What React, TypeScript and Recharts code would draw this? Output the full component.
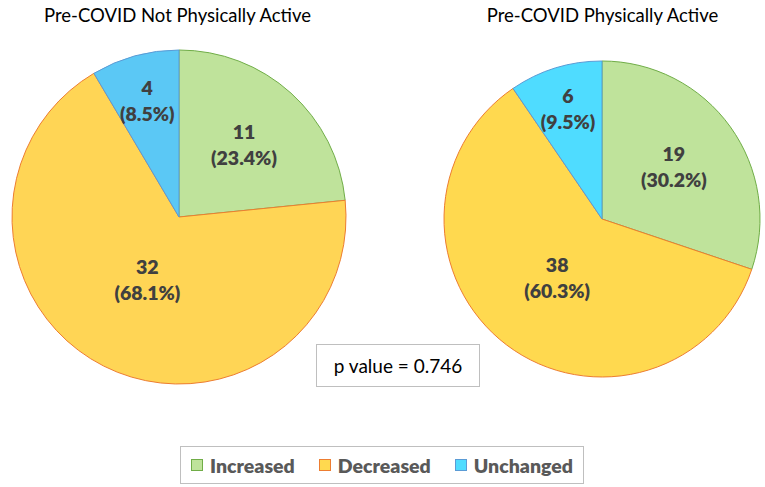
import { PieChart, Pie, Cell, Legend } from 'recharts'

const categories = ['Increased', 'Decreased', 'Unchanged']
const notActiveCounts = [11, 32, 4]
const activeCounts = [19, 38, 6]
const titles = ['Pre-COVID Not Physically Active', 'Pre-COVID Physically Active']
const pValueText = 'p value = 0.746'

const FILLS_LEFT = ['#bfe39b', '#ffd555', '#5bc8f5']
const FILLS_RIGHT = ['#bfe39b', '#ffd94f', '#4fdcff']
const STROKES = ['#70ad47', '#ed7d31', '#5b9bd5']
const FONT = 'Lato, "Open Sans", sans-serif'
const RADIAN = Math.PI / 180

const notActiveData = categories.map((name, i) => ({ name, value: notActiveCounts[i] }))
const activeData = categories.map((name, i) => ({ name, value: activeCounts[i] }))

// excel "best fit" puts each label at a different distance from the centre
function makeLabel(factors: number[]) {
  return (props: any) => {
    const { cx, cy, midAngle, outerRadius, percent, value, index } = props
    const r = outerRadius * factors[index]
    const x = cx + r * Math.cos(-midAngle * RADIAN)
    const y = cy + r * Math.sin(-midAngle * RADIAN)
    return (
      <text x={x} y={y} textAnchor="middle" fill="#404040" fontFamily={FONT} fontWeight={800} fontSize={19.5}>
        <tspan x={x} dy={-6}>{value}</tspan>
        <tspan x={x} dy={26}>({(percent * 100).toFixed(1)}%)</tspan>
      </text>
    )
  }
}

function LegendBox() {
  return (
    <div
      style={{
        border: '1.5px solid #bfbfbf',
        background: '#fff',
        height: 38,
        boxSizing: 'border-box',
        display: 'flex',
        alignItems: 'center',
        justifyContent: 'center',
        gap: 24,
        fontFamily: FONT,
        fontWeight: 800,
        fontSize: 19.5,
        color: '#595959',
      }}
    >
      {categories.map((c, i) => (
        <span key={c} style={{ display: 'flex', alignItems: 'center' }}>
          <span
            style={{
              display: 'inline-block',
              width: 10,
              height: 10,
              background: FILLS_RIGHT[i],
              border: `1px solid ${STROKES[i]}`,
              marginRight: 7,
            }}
          />
          {c}
        </span>
      ))}
    </div>
  )
}

export default function App() {
  return (
    <div style={{ position: 'absolute', left: 0, top: 0, width: 765, height: 487, background: '#fff' }}>
      <div
        style={{
          position: 'absolute', left: 0, width: 355, top: 4, textAlign: 'center',
          fontFamily: FONT, fontSize: 18.5, color: '#000',
        }}
      >
        {titles[0]}
      </div>
      <div
        style={{
          position: 'absolute', left: 425, width: 355, top: 4, textAlign: 'center',
          fontFamily: FONT, fontSize: 18.5, color: '#000',
        }}
      >
        {titles[1]}
      </div>
      <PieChart width={765} height={487} margin={{ top: 0, right: 0, bottom: 0, left: 0 }}>
        <Pie
          data={notActiveData}
          dataKey="value"
          nameKey="name"
          cx={179}
          cy={217}
          outerRadius={167}
          startAngle={90}
          endAngle={-270}
          label={makeLabel([0.58, 0.42, 0.72])}
          labelLine={false}
          isAnimationActive={false}
        >
          {notActiveData.map((d, i) => (
            <Cell key={d.name} fill={FILLS_LEFT[i]} stroke={STROKES[i]} strokeWidth={1} />
          ))}
        </Pie>
        <Pie
          data={activeData}
          dataKey="value"
          nameKey="name"
          cx={602}
          cy={219}
          outerRadius={158}
          startAngle={90}
          endAngle={-270}
          label={makeLabel([0.56, 0.47, 0.73])}
          labelLine={false}
          isAnimationActive={false}
        >
          {activeData.map((d, i) => (
            <Cell key={d.name} fill={FILLS_RIGHT[i]} stroke={STROKES[i]} strokeWidth={1} />
          ))}
        </Pie>
        <Legend
          content={() => <LegendBox />}
          wrapperStyle={{ position: 'absolute', left: 180, top: 446, width: 404, height: 38 }}
        />
      </PieChart>
      <div
        style={{
          position: 'absolute', left: 316, top: 344, width: 164, height: 43, boxSizing: 'border-box',
          border: '1.5px solid #bfbfbf', background: '#fff', display: 'flex', alignItems: 'center',
          justifyContent: 'center', fontFamily: FONT, fontSize: 19, color: '#000',
        }}
      >
        {pValueText}
      </div>
    </div>
  )
}
